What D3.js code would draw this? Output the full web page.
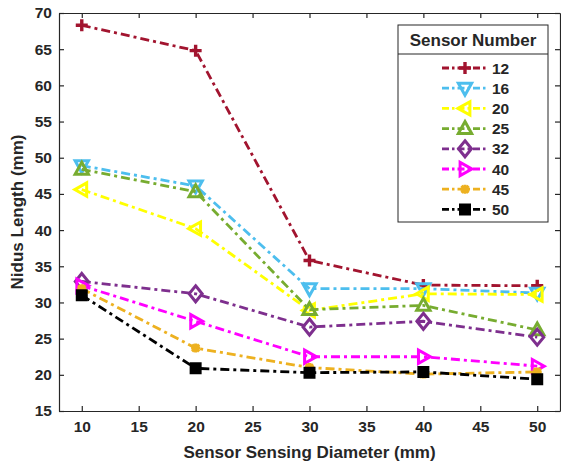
<!DOCTYPE html>
<meta charset="utf-8">
<script src="https://d3js.org/d3.v7.min.js"></script>
<style>
  body { margin: 0; background: #fff; }
  text { font-family: "Liberation Sans", Arial, sans-serif; font-weight: bold; fill: #262626; }
</style>
<div id="chart"></div>
<script>
  // data
  var diameters = [10, 20, 30, 40, 50];
  var sensorNames = ["12", "16", "20", "25", "32", "40", "45", "50"];
  var s12 = [68.3, 64.8, 35.8, 32.4, 32.3];
  var s16 = [48.9, 46.1, 31.9, 31.9, 31.3];
  var s20 = [45.6, 40.2, 28.9, 31.2, 31.1];
  var s25 = [48.4, 45.3, 29.0, 29.6, 26.2];
  var s32 = [32.9, 31.2, 26.6, 27.4, 25.2];
  var s40 = [32.3, 27.4, 22.5, 22.5, 21.2];
  var s45 = [31.9, 23.7, 21.0, 20.1, 20.4];
  var s50 = [31.0, 20.9, 20.3, 20.4, 19.4];
  var xTicks = [10, 15, 20, 25, 30, 35, 40, 45, 50];
  var yTicks = [15, 20, 25, 30, 35, 40, 45, 50, 55, 60, 65, 70];

  var seriesValues = [s12, s16, s20, s25, s32, s40, s45, s50];
  var colors = ["#A2142F", "#4DBEEE", "#FFFF00", "#77AC30", "#7E2F8E", "#FF00FF", "#EDB120", "#000000"];
  var markers = ["plus", "tdown", "tleft", "tup", "diamond", "tright", "star", "square"];

  var W = 561, H = 467;
  var margin = {top: 13, right: 1, bottom: 56, left: 59};

  var svg = d3.select("#chart").append("svg")
      .attr("width", W).attr("height", H);

  var x = d3.scaleLinear().domain([8, 52]).range([margin.left, W - margin.right]);
  var y = d3.scaleLinear().domain([15, 70]).range([H - margin.bottom, margin.top]);

  // axes, MATLAB style box with inward ticks
  var tk = 5;
  svg.append("g").attr("transform", "translate(0," + y(15) + ")")
      .call(d3.axisBottom(x).tickValues(xTicks).tickSizeInner(-tk).tickSizeOuter(0).tickPadding(10));
  svg.append("g").attr("transform", "translate(0," + y(70) + ")")
      .call(d3.axisTop(x).tickValues(xTicks).tickSizeInner(-tk).tickSizeOuter(0).tickFormat(""));
  svg.append("g").attr("transform", "translate(" + x(8) + ",0)")
      .call(d3.axisLeft(y).tickValues(yTicks).tickSizeInner(-tk).tickSizeOuter(0).tickPadding(7));
  svg.append("g").attr("transform", "translate(" + x(52) + ",0)")
      .call(d3.axisRight(y).tickValues(yTicks).tickSizeInner(-tk).tickSizeOuter(0).tickFormat(""));
  svg.selectAll(".domain, .tick line").attr("stroke", "#262626").attr("stroke-width", 1.2);
  svg.selectAll(".tick text").style("font-size", "15.5px")
      .style("font-family", "'Liberation Sans', Arial, sans-serif").style("font-weight", "bold").attr("fill", "#262626");

  // axis titles
  svg.append("text").attr("x", (x(8) + x(52)) / 2).attr("y", 458)
      .attr("text-anchor", "middle").style("font-size", "17px")
      .text("Sensor Sensing Diameter (mm)");
  svg.append("text").attr("transform", "translate(23," + ((y(15) + y(70)) / 2) + ") rotate(-90)")
      .attr("text-anchor", "middle").style("font-size", "17px")
      .text("Nidus Length (mm)");

  // marker shapes
  function markerPath(type) {
    var p = d3.path(), r = 7;
    if (type == "plus") {
      p.moveTo(-6, 0); p.lineTo(6, 0); p.moveTo(0, -6); p.lineTo(0, 6);
    } else if (type == "star") {
      p.moveTo(-4.5, 0); p.lineTo(4.5, 0); p.moveTo(0, -4.5); p.lineTo(0, 4.5);
      p.moveTo(-3.5, -3.5); p.lineTo(3.5, 3.5); p.moveTo(-3.5, 3.5); p.lineTo(3.5, -3.5);
    } else if (type == "square") {
      p.rect(-4.5, -4.5, 9, 9);
    } else if (type == "diamond") {
      p.moveTo(0, -8); p.lineTo(6.5, 0); p.lineTo(0, 8); p.lineTo(-6.5, 0); p.closePath();
    } else {
      p.moveTo(0, -r); p.lineTo(r * 0.95, r * 0.7); p.lineTo(-r * 0.95, r * 0.7); p.closePath();
    }
    return p.toString();
  }
  var rot = {tup: 0, tdown: 180, tleft: -90, tright: 90};

  function drawMarker(g, type, color, cx, cy) {
    var m = g.append("path").attr("d", markerPath(type))
        .attr("transform", "translate(" + cx + "," + cy + ") rotate(" + (rot[type] || 0) + ")")
        .attr("fill", type == "square" ? color : "none")
        .attr("stroke", color)
        .attr("stroke-width", type == "plus" ? 3.4 : 3)
        .attr("stroke-linejoin", "miter");
    return m;
  }

  var line = d3.line()
      .x(function(d, i) { return x(diameters[i]); })
      .y(function(d) { return y(d); });

  var dash = "9,4,3,4";

  seriesValues.forEach(function(vals, k) {
    var g = svg.append("g");
    g.append("path").datum(vals)
        .attr("d", line)
        .attr("fill", "none")
        .attr("stroke", colors[k])
        .attr("stroke-width", 2.8)
        .attr("stroke-dasharray", dash);
    vals.forEach(function(v, i) {
      drawMarker(g, markers[k], colors[k], x(diameters[i]), y(v));
    });
  });

  // legend
  var lx = 398, ly = 25, lw = 150, lh = 197;
  var leg = svg.append("g");
  leg.append("rect").attr("x", lx).attr("y", ly).attr("width", lw).attr("height", lh)
      .attr("fill", "#fff").attr("stroke", "#262626").attr("stroke-width", 1);
  leg.append("line").attr("x1", lx).attr("x2", lx + lw).attr("y1", ly + 29).attr("y2", ly + 29)
      .attr("stroke", "#262626").attr("stroke-width", 1);
  leg.append("text").attr("x", lx + lw / 2).attr("y", ly + 21)
      .attr("text-anchor", "middle").style("font-size", "17px").text("Sensor Number");

  sensorNames.forEach(function(name, k) {
    var yy = ly + 43 + k * 20.2;
    leg.append("line").attr("x1", 442).attr("x2", 488).attr("y1", yy).attr("y2", yy)
        .attr("stroke", colors[k]).attr("stroke-width", 2.8).attr("stroke-dasharray", "7,3,2.5,3");
    drawMarker(leg, markers[k], colors[k], 465, yy);
    leg.append("text").attr("x", 492).attr("y", yy + 5.5).style("font-size", "15.5px").text(name);
  });
</script>
